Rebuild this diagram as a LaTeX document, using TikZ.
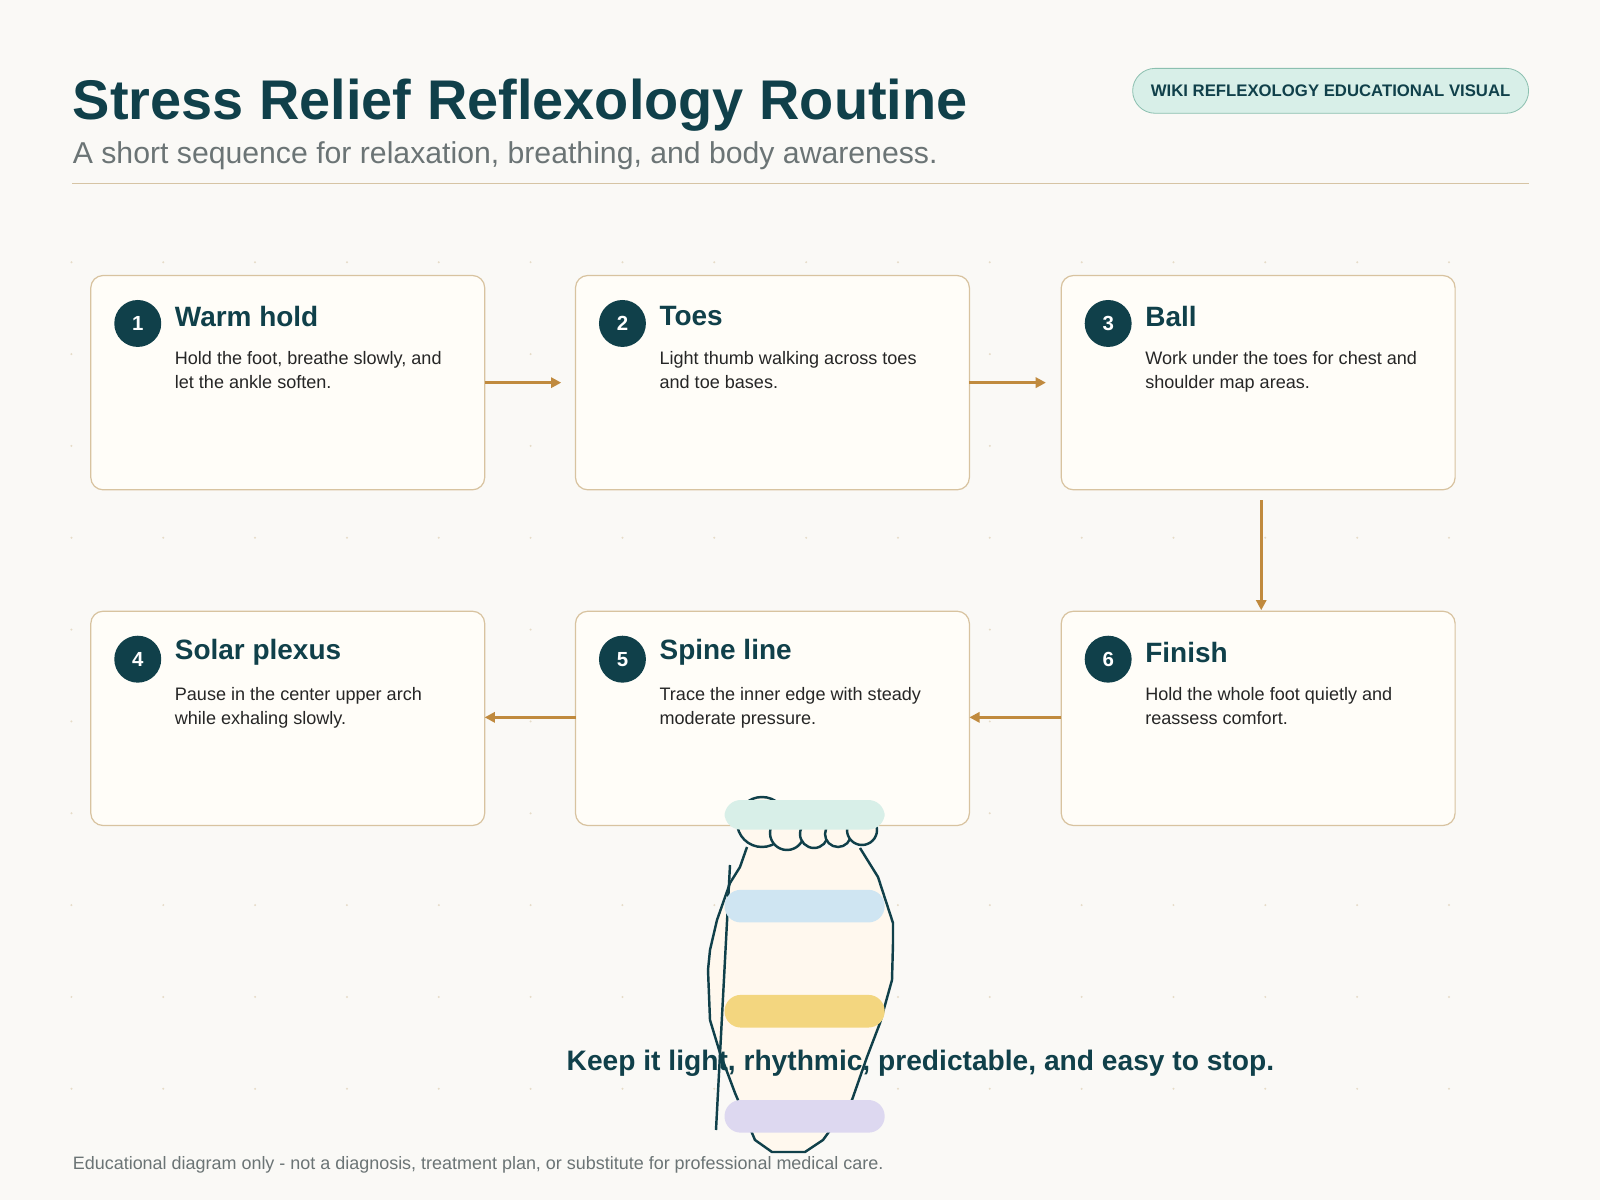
\documentclass[tikz,border=0pt]{standalone}
\usepackage{fontspec}
\setmainfont{Liberation Sans}
\usetikzlibrary{arrows.meta}
\definecolor{bg}{HTML}{FAF9F6}
\definecolor{ink}{HTML}{10404A}
\definecolor{gray1}{HTML}{6B7475}
\definecolor{rule}{HTML}{D6C4A4}
\definecolor{boxb}{HTML}{D8C3A0}
\definecolor{boxf}{HTML}{FFFDF8}
\definecolor{arr}{HTML}{C08A3E}
\definecolor{mint}{HTML}{D8EFE8}
\definecolor{mintb}{HTML}{8CC0B0}
\definecolor{sky}{HTML}{CFE5F2}
\definecolor{sun}{HTML}{F3D67F}
\definecolor{lav}{HTML}{DDD8F0}
\definecolor{footf}{HTML}{FFF8EE}
\definecolor{dot}{HTML}{E6DCC8}
\tikzset{
 box/.style={draw=boxb,fill=boxf,rounded corners=6pt,line width=0.6pt},
 num/.style={circle,fill=ink,minimum size=23pt,inner sep=0,text=white,font=\bfseries\fontsize{10}{10}\selectfont},
 stitle/.style={anchor=west,text=ink,font=\bfseries\fontsize{13.7}{14}\selectfont},
 sbody/.style={anchor=north west,align=left,text=black!85,font=\fontsize{8.85}{11.8}\selectfont},
 flow/.style={draw=arr,line width=1.3pt,-{Triangle[length=5pt,width=5pt]}},
 pill/.style={rounded corners=8pt},
 footl/.style={draw=ink,line width=1.2pt}
}
\begin{document}
\begin{tikzpicture}[x=0.5pt,y=-0.5pt]
\fill[bg] (0,0) rectangle (1568,1176);
\useasboundingbox (0,0) rectangle (1568,1176);
\foreach \i in {0,...,15}{\foreach \j in {0,...,9}{
 \fill[dot] ({70+90*\i},{257+90*\j}) circle (1.1);}}
\node[anchor=base west,text=ink,font=\bfseries\fontsize{27.4}{28}\selectfont,inner sep=0] (title) at (71,117) {Stress Relief Reflexology Routine};
\node[anchor=base west,text=gray1,font=\fontsize{14.8}{16}\selectfont,inner sep=0] (sub) at (71,160) {A short sequence for relaxation, breathing, and body awareness.};
\draw[rule,line width=0.8pt] (71,180) -- (1498,180);
\node[draw=mintb,fill=mint,rounded corners=11pt,minimum width=194pt,minimum height=22pt,text=ink,font=\bfseries\fontsize{8.2}{9}\selectfont] (badge) at (1304,89) {WIKI REFLEXOLOGY EDUCATIONAL VISUAL};
\foreach \n/\x/\y/\t/\a/\b in {
 1/89/270/Warm hold/{Hold the foot, breathe slowly, and}/{let the ankle soften.},
 2/564/270/Toes/{Light thumb walking across toes}/{and toe bases.},
 3/1040/270/Ball/{Work under the toes for chest and}/{shoulder map areas.},
 4/89/599/Solar plexus/{Pause in the center upper arch}/{while exhaling slowly.},
 5/564/599/Spine line/{Trace the inner edge with steady}/{moderate pressure.},
 6/1040/599/Finish/{Hold the whole foot quietly and}/{reassess comfort.}}{
 \draw[box] (\x,\y) rectangle ++(386,210);
 \coordinate (b\n) at (\x,\y);
 \node[num] (c\n) at (\x+46,\y+47) {\n};
 \node[stitle,inner sep=0] (t\n) at (\x+82,\y+40) {\t};
 \node[sbody,inner sep=0] (d\n) at (\x+82,\y+74) {\a\\\b};
}
\coordinate (a1s) at (475,375); \coordinate (a1e) at (550,375);
\coordinate (a2s) at (950,375); \coordinate (a2e) at (1025,375);
\coordinate (a3s) at (1236,490); \coordinate (a3e) at (1236,598);
\coordinate (a4s) at (1040,703); \coordinate (a4e) at (950,703);
\coordinate (a5s) at (564,703); \coordinate (a5e) at (475,703);
\draw[flow] (a1s) -- (a1e);
\draw[flow] (a2s) -- (a2e);
\draw[flow] (a3s) -- (a3e);
\draw[flow] (a4s) -- (a4e);
\draw[flow] (a5s) -- (a5e);
\begin{scope}[scale=0.98]
 \fill[footf] (747,847) -- (740,867) -- (730,883) -- (717,920) -- (710,950) -- (708,970) -- (710,1020) -- (720,1053) -- (735,1093) -- (755,1140) -- (772,1152) -- (805,1152) -- (823,1140) -- (852,1100) -- (867,1057) -- (880,1023) -- (892,980) -- (893,943) -- (893,923) -- (878,877) -- (860,848) -- cycle;
 \foreach \cx/\cy/\r in {762/822/25,787/833/17,814/834/14,838/834/13,862/830/15}{
  \fill[footf] (\cx,\cy) circle (\r);}
\end{scope}
\node[anchor=base,text=ink,font=\bfseries\fontsize{13.8}{14}\selectfont,inner sep=0] (keep) at (902,1049) {Keep it light, rhythmic, predictable, and easy to stop.};
\begin{scope}[scale=0.98]
 \draw[footl] (747,847) -- (740,867) -- (730,883) -- (717,920) -- (710,950) -- (708,970) -- (710,1020) -- (720,1053) -- (735,1093) -- (755,1140) -- (772,1152) -- (805,1152) -- (823,1140) -- (852,1100) -- (867,1057) -- (880,1023) -- (892,980) -- (893,943) -- (893,923) -- (878,877) -- (860,848);
 \foreach \cx/\cy/\r in {762/822/25,787/833/17,814/834/14,838/834/13,862/830/15}{
  \draw[footl,fill=footf] (\cx,\cy) circle (\r);}
 \draw[footl] (730,865) -- (716,1130);
\end{scope}
\fill[mint,pill] (710,784) rectangle (867,813);
\fill[sky,pill] (710,872) rectangle (867,904);
\fill[sun,pill] (710,975) rectangle (867,1007);
\fill[lav,pill] (710,1078) rectangle (867,1110);
\node[anchor=base west,text=gray1,font=\fontsize{8.8}{9}\selectfont,inner sep=0] (foot) at (71,1146) {Educational diagram only - not a diagnosis, treatment plan, or substitute for professional medical care.};
\end{tikzpicture}
\end{document}
